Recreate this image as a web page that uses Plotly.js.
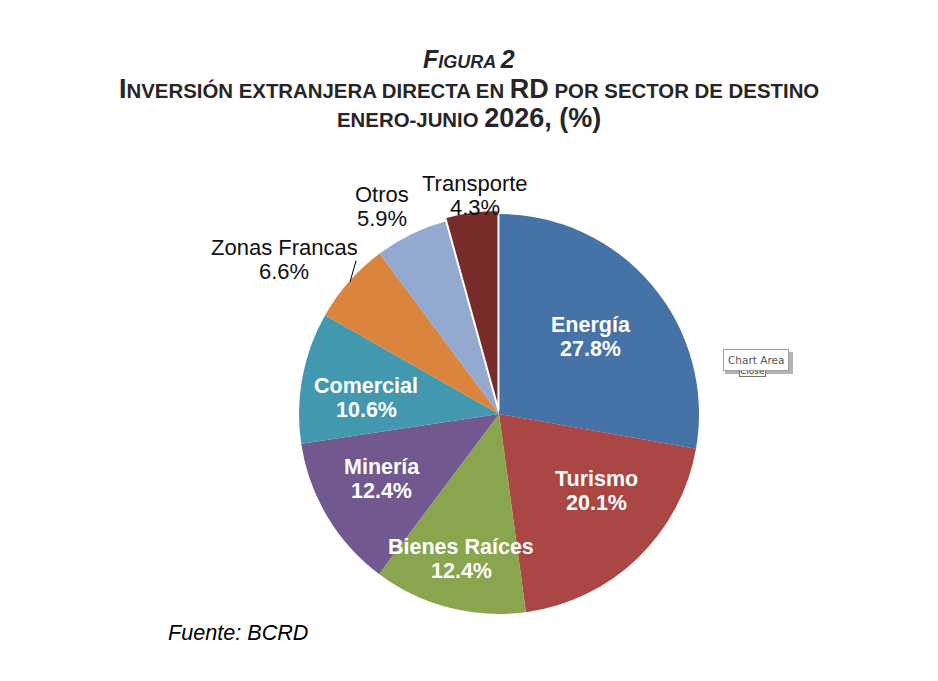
<!DOCTYPE html>
<html>
<head>
<meta charset="utf-8">
<script src="https://cdn.plot.ly/plotly-3.0.1.min.js"></script>
<style>
  body { margin: 0; background: #fff; }
  #chart { width: 938px; height: 681px; }
</style>
</head>
<body>
<div id="chart"></div>
<script>
// sectores de destino, en orden horario desde las 12
const sectores = ['Energía', 'Turismo', 'Bienes Raíces', 'Minería', 'Comercial', 'Zonas Francas', 'Otros', 'Transporte'];
const porcentajes = [27.8, 20.1, 12.4, 12.4, 10.6, 6.6, 5.9, 4.3];
const colores = ['#4572a7', '#aa4643', '#89a54e', '#71588f', '#4198af', '#db843d', '#93a9cf', '#772c2a'];

const W = 938, H = 681;
const fuente = 'Liberation Sans, Arial, sans-serif';

// geometria del pastel (px)
const cx = 499, cy = 414, R = 200;
const maxPull = 0.02;
const pulls = sectores.map(s => s == 'Transporte' ? maxPull : 0);
const bordes = sectores.map(s => s == 'Transporte' ? 2 : 0);

// etiquetas dentro: [fraccion del radio, ajuste de angulo en grados]
const dentro = {
    'Energía': [0.60, 0], 'Turismo': [0.62, -8], 'Bienes Raíces': [0.75, 0],
    'Minería': [0.67, 2], 'Comercial': [0.67, -3.5]
};
// etiquetas fuera: desplazamiento del texto respecto al borde del sector (px)
const fuera = { 'Zonas Francas': [-65, -22], 'Otros': [-29, -28], 'Transporte': [3, -20] };

let px = x => x / W;
let py = y => 1 - y / H;

// angulo medio de cada sector, horario desde las 12
let total = porcentajes.reduce((a, b) => a + b, 0);
let acum = 0;
let angMedio = porcentajes.map(v => { let a = (acum + v / 2) / total * 2 * Math.PI; acum += v; return a; });

let data = [{
    type: 'pie',
    labels: sectores,
    values: porcentajes,
    sort: false,
    direction: 'clockwise',
    rotation: 0,
    pull: pulls,
    marker: { colors: colores, line: { color: '#ffffff', width: bordes } },
    textinfo: 'none',
    hoverinfo: 'label+value',
    showlegend: false,
    domain: {
        x: [px(cx - R * (1 + maxPull)), px(cx + R * (1 + maxPull))],
        y: [py(cy + R * (1 + maxPull)), py(cy - R * (1 + maxPull))]
    }
}];

let anotaciones = [];
let formas = [];

// dos lineas (nombre y %) centradas en (x, y)
function etiqueta(x, y, s, v, f) {
    anotaciones.push({ text: s, xref: 'paper', yref: 'paper', x: px(x), y: py(y - 12),
        xanchor: 'center', yanchor: 'middle', showarrow: false, font: f });
    anotaciones.push({ text: v.toFixed(1) + '%', xref: 'paper', yref: 'paper', x: px(x), y: py(y + 12),
        xanchor: 'center', yanchor: 'middle', showarrow: false, font: f });
}

sectores.forEach((s, i) => {
    let a = angMedio[i];
    if (dentro[s]) {
        let [k, da] = dentro[s];
        let b = a + da * Math.PI / 180;
        etiqueta(cx + k * R * Math.sin(b), cy - k * R * Math.cos(b), s, porcentajes[i],
            { family: fuente, size: 21.5, color: '#ffffff', weight: 'bold' });
    } else {
        let ex = cx + R * Math.sin(a), ey = cy - R * Math.cos(a);
        let [dx, dy] = fuera[s];
        etiqueta(ex + dx, ey + dy, s, porcentajes[i], { family: fuente, size: 22, color: '#111111' });
        if (s == 'Zonas Francas') {
            formas.push({ type: 'line', xref: 'paper', yref: 'paper',
                x0: px(ex + 1), y0: py(ey), x1: px(ex + 7), y1: py(ey - 21),
                line: { color: '#000000', width: 1 } });
        }
    }
});

// titulo en versalitas hechas a mano
let g = (t, n) => `<span style="font-size:${n}px">${t}</span>`;
let tit = { family: fuente, color: '#262626', weight: 'bold', size: 27 };

anotaciones.push(
    { text: '<i>' + g('F', 25) + g('IGURA ', 18) + g('2', 25) + '</i>', xref: 'paper', yref: 'paper',
      x: 0.5, y: py(59), xanchor: 'center', yanchor: 'middle', showarrow: false, font: tit },
    { text: g('I', 27) + g('NVERSIÓN EXTRANJERA DIRECTA EN ', 20.4) + g('RD', 27) + g(' POR SECTOR DE DESTINO', 20.4),
      xref: 'paper', yref: 'paper', x: 0.5, y: py(89), xanchor: 'center', yanchor: 'middle', showarrow: false, font: tit },
    { text: g('ENERO-JUNIO ', 20.4) + g('2026, (%)', 27),
      xref: 'paper', yref: 'paper', x: 0.5, y: py(118), xanchor: 'center', yanchor: 'middle', showarrow: false, font: tit },
    { text: '<i>Fuente: BCRD</i>', xref: 'paper', yref: 'paper', x: px(166), y: py(632), xanchor: 'left', yanchor: 'middle',
      showarrow: false, font: { family: fuente, size: 21.6, color: '#000000' } }
);

// globo de ayuda "Chart Area" que aparece en la captura
formas.push({ type: 'rect', xref: 'paper', yref: 'paper', x0: px(725), x1: px(793), y0: py(352), y1: py(374),
    fillcolor: '#b4b4b4', line: { width: 0 }, layer: 'above' });
anotaciones.push(
    { text: 'Close', xref: 'paper', yref: 'paper', x: px(752), y: py(371), xanchor: 'center', yanchor: 'middle',
      showarrow: false, bgcolor: '#ffffe1', bordercolor: '#767676', borderwidth: 1, borderpad: 0,
      font: { family: 'DejaVu Sans, sans-serif', size: 9, color: '#333333' } },
    { text: 'Chart Area', xref: 'paper', yref: 'paper', x: px(756), y: py(360), xanchor: 'center', yanchor: 'middle',
      showarrow: false, bgcolor: '#ffffff', bordercolor: '#a0a0a0', borderwidth: 1, borderpad: 4,
      font: { family: 'DejaVu Sans, sans-serif', size: 10.5, color: '#555555' } }
);

let layout = {
    width: W, height: H,
    margin: { l: 0, r: 0, t: 0, b: 0 },
    paper_bgcolor: '#ffffff',
    font: { family: fuente },
    annotations: anotaciones,
    shapes: formas
};

Plotly.newPlot('chart', data, layout, { displayModeBar: false, staticPlot: true });
</script>
</body>
</html>
